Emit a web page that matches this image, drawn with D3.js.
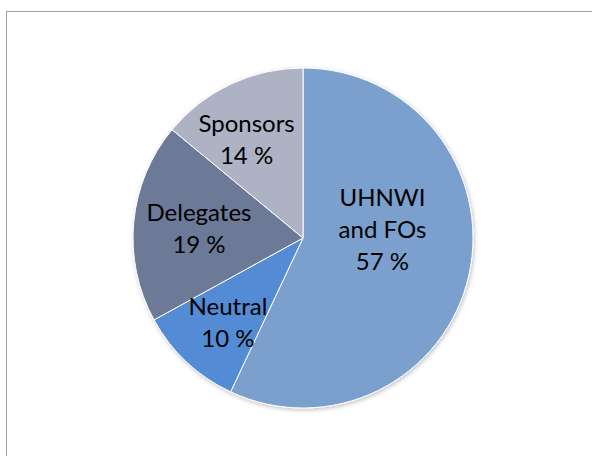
<!DOCTYPE html>
<html><head><meta charset="utf-8">
<script src="https://cdn.jsdelivr.net/npm/d3@7"></script>
<style>html,body{margin:0;padding:0;background:#fff;}svg{display:block;}</style>
</head><body>
<svg id="c" width="592" height="456"></svg>
<script>
const categories = ["UHNWI and FOs", "Neutral", "Delegates", "Sponsors"];
const labelLines = [["UHNWI", "and FOs"], ["Neutral"], ["Delegates"], ["Sponsors"]];
const values = [57, 10, 19, 14];
const colors = ["#7ba0cd", "#528bd5", "#6d7a97", "#adb3c4"];
// layout: label radius factor and small nudges
const labelRadiusFactor = [0.5, 0.65, 0.65, 0.65];
const labelNudge = [[-3.5, -27], [0.6, 3.9], [6, 0.4], [-9.4, 1]];

const svg = d3.select("#c");
svg.append("rect").attr("x", 6.5).attr("y", 11.5).attr("width", 600).attr("height", 460)
  .attr("fill", "#fff").attr("stroke", "#a0a0a0").attr("stroke-width", 1);

const cx = 303, cy = 238, r = 170;
const pie = d3.pie().sort(null).value(d => d)(values);
const arc = d3.arc().innerRadius(0).outerRadius(r);

const defs = svg.append("defs");
const f = defs.append("filter").attr("id", "sh").attr("x", "-10%").attr("y", "-10%").attr("width", "120%").attr("height", "120%");
f.append("feDropShadow").attr("dx", 1).attr("dy", 1.5).attr("stdDeviation", 2).attr("flood-color", "#000").attr("flood-opacity", 0.25);

const g = svg.append("g").attr("transform", `translate(${cx},${cy})`);
const slices = g.append("g").attr("filter", "url(#sh)");
slices.selectAll("path").data(pie).join("path")
  .attr("d", arc).attr("fill", (d, i) => colors[i])
  .attr("stroke", "#fff").attr("stroke-width", 1);

const fs = 24, lh = 32;
pie.forEach((d, i) => {
  const lr = r * labelRadiusFactor[i];
  const c = d3.arc().innerRadius(lr).outerRadius(lr).centroid(d);
  const x = c[0] + labelNudge[i][0], y = c[1] + labelNudge[i][1];
  const lines = labelLines[i].concat([values[i] + " %"]);
  const t = g.append("text").attr("text-anchor", "middle")
    .attr("font-family", "Lato, 'Open Sans', sans-serif").attr("font-size", fs).attr("fill", "#000");
  const y0 = y - (lines.length - 1) * lh / 2 + fs * 0.36;
  lines.forEach((L, k) => t.append("tspan").attr("x", x).attr("y", y0 + k * lh).text(L));
});
</script>
</body></html>
